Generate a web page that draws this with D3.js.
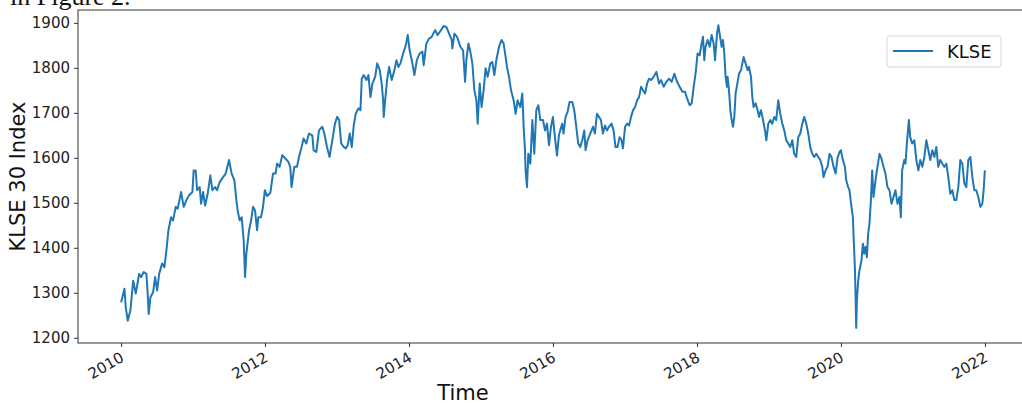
<!DOCTYPE html>
<html>
<head>
<meta charset="utf-8">
<script src="https://cdnjs.cloudflare.com/ajax/libs/d3/7.8.5/d3.min.js"></script>
<style>
  body { margin: 0; background: #fff; }
  svg { display: block; }
  .tick text { font-family: "DejaVu Sans", sans-serif; font-size: 15px; fill: #222; }
  .tick line { stroke: #333; }
  .domain { display: none; }
</style>
</head>
<body>
<div id="chart"></div>
<script>
// time as decimal year
var years = [
  2010.000, 2010.046, 2010.064, 2010.092, 2010.129, 2010.167, 2010.203, 2010.250, 2010.278, 2010.314,
  2010.351, 2010.369, 2010.383, 2010.407, 2010.444, 2010.472, 2010.500, 2010.528, 2010.569, 2010.601,
  2010.629, 2010.657, 2010.694, 2010.722, 2010.758, 2010.786, 2010.833, 2010.869, 2010.907, 2010.944,
  2010.990, 2011.008, 2011.036, 2011.056, 2011.092, 2011.111, 2011.139, 2011.167, 2011.203, 2011.240,
  2011.268, 2011.306, 2011.333, 2011.369, 2011.417, 2011.453, 2011.500, 2011.536, 2011.574, 2011.601,
  2011.619, 2011.647, 2011.675, 2011.703, 2011.722, 2011.740, 2011.778, 2011.806, 2011.833, 2011.861,
  2011.889, 2011.907, 2011.944, 2011.972, 2011.997, 2012.028, 2012.074, 2012.111, 2012.147, 2012.167,
  2012.203, 2012.240, 2012.286, 2012.324, 2012.351, 2012.369, 2012.407, 2012.444, 2012.472, 2012.508,
  2012.536, 2012.574, 2012.611, 2012.657, 2012.675, 2012.713, 2012.750, 2012.796, 2012.824, 2012.861,
  2012.897, 2012.935, 2012.972, 2013.000, 2013.028, 2013.056, 2013.092, 2013.119, 2013.147, 2013.175,
  2013.203, 2013.231, 2013.258, 2013.296, 2013.324, 2013.342, 2013.369, 2013.407, 2013.435, 2013.463,
  2013.490, 2013.528, 2013.556, 2013.592, 2013.619, 2013.639, 2013.647, 2013.667, 2013.694, 2013.722,
  2013.758, 2013.796, 2013.824, 2013.851, 2013.879, 2013.917, 2013.953, 2013.981, 2014.008, 2014.046,
  2014.074, 2014.108, 2014.147, 2014.185, 2014.203, 2014.240, 2014.278, 2014.314, 2014.361, 2014.397,
  2014.444, 2014.481, 2014.518, 2014.556, 2014.592, 2014.601, 2014.629, 2014.667, 2014.713, 2014.750,
  2014.778, 2014.796, 2014.824, 2014.851, 2014.879, 2014.907, 2014.935, 2014.953, 2014.981, 2015.008,
  2015.036, 2015.064, 2015.092, 2015.129, 2015.157, 2015.185, 2015.213, 2015.250, 2015.286, 2015.314,
  2015.342, 2015.361, 2015.389, 2015.417, 2015.453, 2015.481, 2015.508, 2015.546, 2015.574, 2015.592,
  2015.611, 2015.619, 2015.639, 2015.657, 2015.685, 2015.713, 2015.740, 2015.768, 2015.796, 2015.824,
  2015.861, 2015.889, 2015.917, 2015.944, 2015.972, 2016.000, 2016.028, 2016.056, 2016.083, 2016.101,
  2016.129, 2016.147, 2016.175, 2016.203, 2016.231, 2016.268, 2016.296, 2016.324, 2016.351, 2016.379,
  2016.407, 2016.435, 2016.453, 2016.481, 2016.518, 2016.556, 2016.583, 2016.611, 2016.639, 2016.667,
  2016.694, 2016.722, 2016.750, 2016.778, 2016.814, 2016.842, 2016.869, 2016.897, 2016.925, 2016.953,
  2016.972, 2017.000, 2017.028, 2017.056, 2017.083, 2017.111, 2017.139, 2017.167, 2017.194, 2017.222,
  2017.250, 2017.278, 2017.306, 2017.333, 2017.361, 2017.397, 2017.435, 2017.472, 2017.500, 2017.536,
  2017.574, 2017.611, 2017.647, 2017.685, 2017.722, 2017.758, 2017.796, 2017.833, 2017.861, 2017.897,
  2017.925, 2017.953, 2017.981, 2018.008, 2018.036, 2018.064, 2018.083, 2018.101, 2018.119, 2018.147,
  2018.175, 2018.203, 2018.231, 2018.250, 2018.278, 2018.296, 2018.314, 2018.342, 2018.361, 2018.379,
  2018.397, 2018.417, 2018.425, 2018.444, 2018.463, 2018.481, 2018.500, 2018.518, 2018.536, 2018.556,
  2018.583, 2018.611, 2018.647, 2018.675, 2018.703, 2018.722, 2018.750, 2018.768, 2018.786, 2018.814,
  2018.842, 2018.861, 2018.889, 2018.917, 2018.944, 2018.963, 2018.990, 2019.018, 2019.046, 2019.074,
  2019.101, 2019.129, 2019.157, 2019.185, 2019.213, 2019.240, 2019.268, 2019.296, 2019.324, 2019.351,
  2019.379, 2019.407, 2019.435, 2019.463, 2019.490, 2019.518, 2019.546, 2019.574, 2019.601, 2019.629,
  2019.657, 2019.685, 2019.713, 2019.740, 2019.758, 2019.786, 2019.814, 2019.842, 2019.869, 2019.897,
  2019.925, 2019.953, 2019.981, 2020.000, 2020.028, 2020.056, 2020.074, 2020.101, 2020.119, 2020.147,
  2020.167, 2020.175, 2020.194, 2020.203, 2020.213, 2020.222, 2020.240, 2020.258, 2020.286, 2020.306,
  2020.324, 2020.342, 2020.361, 2020.379, 2020.397, 2020.417, 2020.435, 2020.453, 2020.481, 2020.508,
  2020.536, 2020.564, 2020.592, 2020.619, 2020.647, 2020.675, 2020.703, 2020.731, 2020.758, 2020.786,
  2020.814, 2020.833, 2020.851, 2020.879, 2020.897, 2020.917, 2020.944, 2020.963, 2020.990, 2021.018,
  2021.046, 2021.074, 2021.101, 2021.129, 2021.157, 2021.185, 2021.213, 2021.240, 2021.268, 2021.296,
  2021.324, 2021.351, 2021.379, 2021.407, 2021.435, 2021.463, 2021.490, 2021.518, 2021.546, 2021.574,
  2021.601, 2021.629, 2021.657, 2021.685, 2021.713, 2021.740, 2021.768, 2021.796, 2021.824, 2021.851,
  2021.879, 2021.907, 2021.935, 2021.963, 2021.981, 2021.998
];

var klse = [
  1279, 1309, 1268, 1238, 1261, 1327, 1298, 1342, 1335, 1346,
  1342, 1298, 1253, 1290, 1301, 1335, 1305, 1342, 1365, 1357,
  1394, 1439, 1468, 1461, 1491, 1487, 1524, 1491, 1506, 1517,
  1524, 1572, 1572, 1528, 1535, 1498, 1524, 1494, 1520, 1561,
  1528, 1535, 1528, 1546, 1557, 1565, 1595, 1565, 1550, 1506,
  1483, 1461, 1468, 1417, 1335, 1387, 1439, 1461, 1491, 1483,
  1439, 1468, 1468, 1491, 1528, 1515, 1522, 1565, 1565, 1587,
  1580, 1606, 1598, 1591, 1580, 1535, 1580, 1580, 1602, 1624,
  1643, 1632, 1654, 1650, 1617, 1613, 1661, 1669, 1654, 1624,
  1602, 1639, 1676, 1691, 1684, 1632, 1624, 1621, 1628, 1654,
  1624, 1672, 1698, 1710, 1706, 1776, 1784, 1773, 1784, 1735,
  1765, 1780, 1810, 1795, 1765, 1728, 1691, 1728, 1773, 1802,
  1773, 1795, 1817, 1802, 1810, 1832, 1850, 1873, 1839, 1810,
  1784, 1817, 1832, 1836, 1806, 1854, 1865, 1869, 1884, 1873,
  1884, 1893, 1891, 1876, 1862, 1843, 1876, 1869, 1847, 1839,
  1769, 1817, 1854, 1836, 1810, 1750, 1728, 1676, 1765, 1713,
  1750, 1799, 1780, 1810, 1813, 1784, 1817, 1847, 1862, 1854,
  1824, 1802, 1780, 1750, 1728, 1698, 1728, 1713, 1743, 1669,
  1617, 1572, 1535, 1609, 1587, 1684, 1609, 1706, 1717, 1684,
  1684, 1661, 1676, 1628, 1669, 1691, 1645, 1605, 1650, 1661,
  1676, 1654, 1691, 1702, 1724, 1724, 1706, 1669, 1632, 1624,
  1639, 1661, 1617, 1639, 1654, 1669, 1654, 1698, 1691, 1684,
  1654, 1672, 1661, 1669, 1676, 1661, 1624, 1624, 1646, 1639,
  1621, 1669, 1676, 1672, 1691, 1706, 1713, 1728, 1735, 1758,
  1750, 1743, 1765, 1776, 1773, 1780, 1791, 1765, 1773, 1758,
  1769, 1776, 1769, 1787, 1769, 1758, 1747, 1747, 1732, 1717,
  1721, 1758, 1790, 1832, 1828, 1854, 1869, 1817, 1847, 1862,
  1847, 1873, 1854, 1817, 1876, 1895, 1876, 1847, 1862, 1832,
  1780, 1758, 1780, 1750, 1706, 1684, 1669, 1691, 1743, 1761,
  1787, 1795, 1824, 1810, 1795, 1802, 1780, 1735, 1713, 1721,
  1706, 1691, 1706, 1684, 1661, 1639, 1676, 1684, 1676, 1691,
  1684, 1728, 1698, 1676, 1661, 1639, 1632, 1624, 1639, 1609,
  1602, 1646, 1654, 1676, 1691, 1676, 1654, 1624, 1609, 1602,
  1609, 1602, 1595, 1580, 1557, 1572, 1580, 1609, 1602, 1580,
  1565, 1600, 1613, 1617, 1595, 1580, 1550, 1535, 1528, 1491,
  1468, 1431, 1357, 1298, 1222, 1283, 1327, 1350, 1372, 1409,
  1387, 1402, 1379, 1431, 1454, 1506, 1572, 1513, 1550, 1580,
  1609, 1598, 1580, 1565, 1535, 1528, 1498, 1513, 1528, 1498,
  1513, 1468, 1572, 1595, 1587, 1632, 1684, 1646, 1632, 1639,
  1595, 1572, 1595, 1580, 1602, 1639, 1617, 1595, 1617, 1602,
  1624, 1580, 1595, 1587, 1580, 1587, 1557, 1520, 1528, 1506,
  1506, 1535, 1595, 1587, 1543, 1535, 1595, 1602, 1557, 1528,
  1528, 1513, 1491, 1498, 1528, 1572
];

var yTicks = [1200, 1300, 1400, 1500, 1600, 1700, 1800, 1900];
var seriesName = "KLSE";

function toDate(t) {
  var y = Math.floor(t);
  return new Date(new Date(y, 0, 1).getTime() + (t - y) * 365.25 * 864e5);
}

var data = years.map(function(t, i) { return {date: toDate(t), value: klse[i]}; });

var width = 1022, height = 404;
var plot = {left: 78, top: 10, right: 1028, bottom: 343};

var svg = d3.select("#chart").append("svg")
    .attr("width", width)
    .attr("height", height);

// matplotlib-like 5% margins around the data
var tExt = d3.extent(years), vExt = d3.extent(klse);
var tPad = (tExt[1] - tExt[0]) * 0.05, vPad = (vExt[1] - vExt[0]) * 0.05;

var x = d3.scaleTime()
    .domain([toDate(tExt[0] - tPad), toDate(tExt[1] + tPad)])
    .range([plot.left, plot.right]);

var y = d3.scaleLinear()
    .domain([vExt[0] - vPad, vExt[1] + vPad])
    .range([plot.bottom, plot.top]);

// header text cut off above the figure
svg.append("text")
    .attr("x", 10)
    .attr("y", 5)
    .style("font-family", "'Liberation Serif', serif")
    .style("font-size", "26px")
    .style("fill", "#111")
    .text("in Figure 2.");

svg.append("path")
    .datum(data)
    .attr("fill", "none")
    .attr("stroke", "#1f77b4")
    .attr("stroke-width", 2)
    .attr("stroke-linejoin", "round")
    .attr("d", d3.line()
      .x(function(d) { return x(d.date); })
      .y(function(d) { return y(d.value); }));

var xAxis = svg.append("g")
    .attr("transform", "translate(0," + plot.bottom + ")")
    .call(d3.axisBottom(x).ticks(d3.timeYear.every(2)).tickFormat(d3.timeFormat("%Y")).tickSize(4));

xAxis.selectAll(".tick text")
    .attr("text-anchor", "end")
    .attr("y", 0)
    .attr("dy", "0.72em")
    .attr("transform", "translate(-2,8) rotate(-30)");

svg.append("g")
    .attr("transform", "translate(" + plot.left + ",0)")
    .call(d3.axisLeft(y).tickValues(yTicks).tickFormat(d3.format("d")).tickSize(4).tickPadding(4));

// spines
svg.append("rect")
    .attr("x", plot.left)
    .attr("y", plot.top)
    .attr("width", plot.right - plot.left)
    .attr("height", plot.bottom - plot.top)
    .attr("fill", "none")
    .attr("stroke", "#333")
    .attr("stroke-width", 1);

svg.append("text")
    .attr("transform", "translate(25," + ((plot.top + plot.bottom) / 2) + ") rotate(-90)")
    .attr("text-anchor", "middle")
    .style("font-family", "'DejaVu Sans', sans-serif")
    .style("font-size", "21px")
    .style("fill", "#111")
    .text("KLSE 30 Index");

svg.append("text")
    .attr("x", 463)
    .attr("y", 400)
    .attr("text-anchor", "middle")
    .style("font-family", "'DejaVu Sans', sans-serif")
    .style("font-size", "21px")
    .style("fill", "#111")
    .text("Time");

// legend
var legend = svg.append("g").attr("transform", "translate(887,36)");
legend.append("rect")
    .attr("width", 114)
    .attr("height", 31)
    .attr("rx", 3)
    .attr("fill", "#fff")
    .attr("stroke", "#d5d5d5");
legend.append("line")
    .attr("x1", 6).attr("x2", 46)
    .attr("y1", 15).attr("y2", 15)
    .attr("stroke", "#1f77b4")
    .attr("stroke-width", 2);
legend.append("text")
    .attr("x", 60)
    .attr("y", 22)
    .style("font-family", "'DejaVu Sans', sans-serif")
    .style("font-size", "18px")
    .style("fill", "#111")
    .text(seriesName);
</script>
</body>
</html>
